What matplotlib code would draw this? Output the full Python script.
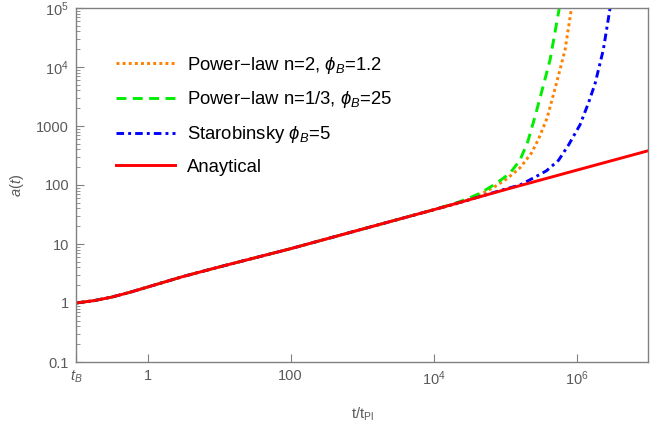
import matplotlib
matplotlib.use("Agg")
import matplotlib.pyplot as plt
from matplotlib.ticker import FixedLocator, NullLocator

plt.rcParams["font.family"] = ["Liberation Sans", "DejaVu Sans"]
plt.rcParams["mathtext.fontset"] = "custom"
plt.rcParams["mathtext.rm"] = "Liberation Sans"
plt.rcParams["mathtext.it"] = "Liberation Sans:italic"
plt.rcParams["mathtext.fallback"] = "stix"

# values (t in t_Pl, a(t))
t_common = [0.1, 0.178, 0.316, 0.562, 1, 3.16, 10, 31.6, 100, 1e3, 1e4]
a_common = [1.0, 1.096, 1.259, 1.514, 1.862, 2.818, 4.074, 5.82, 8.32, 17.8, 38.0]

t_anal = t_common + [1e5, 1e6, 1e7]
a_anal = a_common + [83.2, 178, 380]

t_pl2 = t_common + [2.0e4, 3.55e4, 6.92e4, 1.05e5, 1.62e5, 2.34e5, 2.95e5, 3.89e5, 5.13e5, 6.92e5, 8.51e5]
a_pl2 = a_common + [47, 58.9, 91.2, 126, 195, 347, 603, 1380, 4786, 1.95e4, 1e5]

t_pl13 = t_common + [2.0e4, 2.9e4, 4.47e4, 7.6e4, 1.17e5, 1.62e5, 2.09e5, 2.63e5, 3.16e5, 4.27e5, 5.75e5]
a_pl13 = a_common + [49, 57.5, 72.4, 107, 158, 263, 550, 1445, 3311, 1.32e4, 1e5]

t_staro = t_common + [3.16e4, 1e5, 1.62e5, 2.51e5, 3.8e5, 5.62e5, 7.76e5, 1.12e6, 1.48e6, 1.82e6, 2.37e6, 2.95e6]
a_staro = a_common + [56.2, 85.1, 100, 132, 174, 263, 479, 1047, 2512, 5248, 1.95e4, 1e5]

xticks = [0.1, 1, 100, 1e4, 1e6]
xticklabels = [r"$t_B$", "1", "100", r"$10^4$", r"$10^6$"]
yticks = [0.1, 1, 10, 100, 1000, 1e4, 1e5]
yticklabels = ["0.1", "1", "10", "100", "1000", r"$10^4$", r"$10^5$"]

GRAY = "#808080"
LBL = "#5a5a5a"

fig = plt.figure(figsize=(6.67, 4.24), dpi=100)
ax = fig.add_axes([76 / 667, 1 - 362 / 424, 572 / 667, 354 / 424])

ax.plot(t_pl2, a_pl2, color="#FF8000", lw=2.1, dashes=(1.0, 1.1),
        label=r"Power$-$law n=2, $\phi_B$=1.2")
ax.plot(t_pl13, a_pl13, color="#00EE00", lw=2.1, dashes=(3.4, 2.2),
        label=r"Power$-$law n=1/3, $\phi_B$=25")
ax.plot(t_staro, a_staro, color="#0000FF", lw=2.1, dashes=(2.6, 1.4, 1.0, 1.4),
        label=r"Starobinsky $\phi_B$=5")
ax.plot(t_anal, a_anal, color="#FF0000", lw=2.1, label="Anaytical")

ax.set_xscale("log"); ax.set_yscale("log")
ax.set_xlim(0.1, 1e7); ax.set_ylim(0.1, 1e5)

ax.xaxis.set_major_locator(FixedLocator(xticks))
ax.set_xticklabels(xticklabels)
ax.xaxis.set_minor_locator(NullLocator())
ax.yaxis.set_major_locator(FixedLocator(yticks))
ax.set_yticklabels(yticklabels)
ax.yaxis.set_minor_locator(FixedLocator([m * 10.0 ** e for e in range(-1, 5) for m in range(2, 10)]))

ax.tick_params(which="both", direction="in", top=False, right=False,
               color=GRAY, labelcolor=LBL, labelsize=10.5)
ax.tick_params(which="major", length=6, width=0.8, pad=5)
ax.tick_params(which="minor", length=3, width=0.6)
for s in ax.spines.values():
    s.set_color(GRAY); s.set_linewidth(1.0)

ax.set_xlabel(r"t/t$_\mathrm{Pl}$", color=LBL, fontsize=10.5, labelpad=13)
ax.set_ylabel(r"$a(t)$", color=LBL, fontsize=10.5, labelpad=7)

ax.legend(loc="upper left", bbox_to_anchor=(0.07, 0.868), frameon=False,
          fontsize=13.3, handlelength=3.2, handletextpad=0.65, labelspacing=0.74,
          borderpad=0, borderaxespad=0)

fig.savefig("out.png", dpi=100)
